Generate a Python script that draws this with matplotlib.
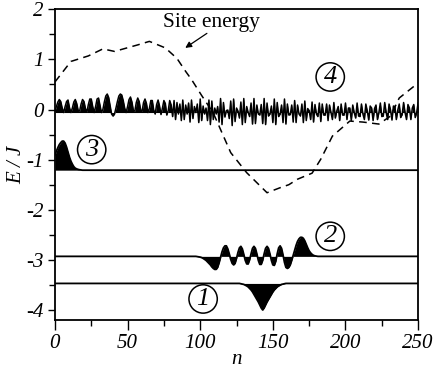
import numpy as np
import matplotlib
matplotlib.use("Agg")
import matplotlib.pyplot as plt

plt.rcParams['font.family'] = ['Liberation Serif', 'DejaVu Serif']
plt.rcParams['axes.unicode_minus'] = False

# ---------------- data ----------------
n_sites = np.arange(251)

# site energy (dashed)
site_n = [0, 11, 23, 33, 41, 57, 65, 76, 84, 90, 94, 101, 109, 121, 132, 146, 155,
          161, 167, 177, 183, 191, 203, 212, 223, 231, 237, 250]
site_E = [0.55, 0.96, 1.07, 1.21, 1.16, 1.29, 1.36, 1.23, 1.02, 0.76, 0.6, 0.28, -0.07,
          -0.86, -1.26, -1.66, -1.56, -1.5, -1.39, -1.27, -0.99, -0.53, -0.23, -0.25,
          -0.29, -0.13, 0.23, 0.53]

# state baselines (eigen-energies)
E1, E2, E3, E4 = -3.47, -2.93, -1.21, -0.06

# state 1 amplitudes, sites 128..158
psi1_start = 128
psi1_vals = [-0.006, -0.012, -0.02, -0.035, -0.05, -0.07, -0.10, -0.13, -0.17, -0.22,
             -0.27, -0.32, -0.37, -0.43, -0.49, -0.53, -0.49, -0.43, -0.37, -0.32,
             -0.27, -0.22, -0.17, -0.13, -0.10, -0.07, -0.05, -0.035, -0.02, -0.012,
             -0.006]

# state 2 amplitudes, sites 98..181
psi2_start = 98
psi2_vals = [-0.005, -0.01, -0.015, -0.025, -0.04, -0.06, -0.08, -0.11, -0.14, -0.17,
             -0.21, -0.24, -0.26, -0.26, -0.22, -0.13, -0.02, 0.09, 0.17, 0.21,
             0.21, 0.15, 0.05, -0.06, -0.14, -0.17, -0.14, -0.04, 0.08, 0.17,
             0.20, 0.15, 0.04, -0.08, -0.15, -0.15, -0.07, 0.05, 0.16, 0.20,
             0.16, 0.05, -0.08, -0.16, -0.16, -0.08, 0.05, 0.16, 0.20, 0.16,
             0.05, -0.08, -0.17, -0.18, -0.10, 0.05, 0.17, 0.21, 0.16, 0.03,
             -0.12, -0.22, -0.24, -0.22, -0.17, -0.08, 0.02, 0.12, 0.22, 0.30,
             0.35, 0.38, 0.38, 0.36, 0.31, 0.24, 0.17, 0.11, 0.07, 0.04,
             0.02, 0.01, 0.005, 0.0]

# state 3 amplitudes, sites 0..19
psi3_start = 0
psi3_vals = [0.30, 0.38, 0.45, 0.51, 0.55, 0.58, 0.58, 0.54, 0.46, 0.36,
             0.26, 0.18, 0.12, 0.07, 0.04, 0.025, 0.015, 0.008, 0.004, 0.0]

# state 4 amplitudes, sites 0..250
psi4_vals = [
    0.03, 0.12, 0.21, 0.26, 0.22, 0.09, 0.00, 0.12, 0.22, 0.25,
    0.10, 0.00, 0.09, 0.21, 0.26, 0.18, 0.04, 0.03, 0.17, 0.26,
    0.22, 0.08, 0.01, 0.16, 0.27, 0.27, 0.12, 0.00, 0.12, 0.27,
    0.29, 0.15, 0.00, 0.06, 0.21, 0.33, 0.37, 0.30, 0.13, -0.03,
    -0.07, -0.03, 0.09, 0.22, 0.33, 0.37, 0.35, 0.24, 0.09, 0.00,
    0.12, 0.26, 0.31, 0.21, 0.04, 0.03, 0.20, 0.29, 0.22, 0.05,
    0.03, 0.20, 0.27, 0.18, 0.00, 0.08, 0.24, 0.24, 0.05, -0.03,
    0.16, 0.25, 0.13, -0.04, 0.09, 0.24, 0.18, -0.05, 0.04, 0.24,
    0.15, -0.08, 0.24, -0.14, 0.20, -0.03, 0.17, -0.16, 0.25, -0.14,
    0.15, -0.03, 0.19, -0.19, 0.25, -0.12, 0.12, 0.00, 0.17, -0.20,
    0.27, -0.16, 0.13, -0.03, 0.09, -0.16, 0.25, -0.24, 0.23, -0.14,
    0.09, -0.03, 0.12, -0.19, 0.28, -0.24, 0.20, -0.09, 0.04, 0.05,
    -0.12, 0.23, -0.26, 0.27, -0.18, 0.09, 0.03, -0.11, 0.21, -0.24,
    0.28, -0.20, 0.12, 0.00, -0.08, 0.19, -0.23, 0.28, -0.22, 0.15,
    -0.03, -0.05, 0.16, -0.22, 0.28, -0.24, 0.19, -0.07, -0.03, 0.13,
    -0.20, 0.27, -0.24, 0.20, -0.08, -0.03, 0.15, -0.20, 0.27, -0.23,
    0.17, -0.05, -0.04, 0.15, -0.19, 0.24, -0.20, 0.15, -0.03, -0.07,
    0.17, -0.20, 0.23, -0.16, 0.08, 0.04, -0.14, 0.21, -0.19, 0.16,
    -0.03, -0.08, 0.19, -0.18, 0.17, -0.05, -0.05, 0.17, -0.16, 0.15,
    0.00, -0.14, 0.20, -0.11, 0.03, 0.12, -0.16, 0.17, -0.05, -0.05,
    0.19, -0.14, 0.09, 0.09, -0.16, 0.15, 0.00, -0.11, 0.19, -0.07,
    -0.08, 0.17, -0.03, -0.14, 0.17, 0.03, -0.15, 0.13, 0.09, -0.16,
    0.08, 0.15, -0.14, 0.00, 0.19, -0.08, -0.07, 0.20, 0.00, -0.14,
    0.17, 0.05, -0.15, 0.13, 0.12, -0.14, 0.05, 0.17, -0.10, -0.04,
    0.20, 0.00, -0.14, 0.16, 0.09, -0.14, 0.09, 0.16, -0.10, 0.00,
    0.19]

labels = ['1', '2', '3', '4']
label_n = [102, 189.5, 25.3, 189.5]
label_E = [-3.78, -2.53, -0.80, 0.65]

# ---------------- figure ----------------
fig = plt.figure(figsize=(4.36, 3.68), dpi=100)
ax = fig.add_axes([0.126, 0.1304, 0.833, 0.8443])


def full(start, vals):
    a = np.zeros(len(n_sites))
    a[start:start + len(vals)] = vals
    return a

states = [(E1, full(psi1_start, psi1_vals)),
          (E2, full(psi2_start, psi2_vals)),
          (E3, full(psi3_start, psi3_vals)),
          (E4, np.array(psi4_vals))]

for E, psi in states:
    ax.fill_between(n_sites, E, E + psi, color='black', lw=0)
    ax.plot(n_sites, E + psi, color='black', lw=1.3 if E != E4 else 1.1)

ax.plot(site_n, site_E, color='black', lw=1.1, ls=(0, (5, 3.5)))

for t, x, y in zip(labels, label_n, label_E):
    ax.text(x, y, t, fontsize=19, style='italic', ha='center', va='center',
            bbox=dict(boxstyle='circle,pad=0.12', fc='white', ec='black', lw=1.1))

ax.text(108, 1.73, 'Site energy', fontsize=15.5, ha='center', va='center')
ax.annotate('', xy=(89.7, 1.23), xytext=(104.6, 1.52),
            arrowprops=dict(arrowstyle='-|>', color='black', lw=0.9,
                            mutation_scale=9, shrinkA=0, shrinkB=0))

ax.set_xlim(0, 250)
ax.set_ylim(-4.2, 2)
ax.set_xticks([0, 50, 100, 150, 200, 250])
ax.set_xticks([25, 75, 125, 175, 225], minor=True)
ax.set_yticks([-4, -3, -2, -1, 0, 1, 2])
ax.set_yticks([-3.5, -2.5, -1.5, -0.5, 0.5, 1.5], minor=True)
ax.set_yticklabels(['-4', '-3', '-2', '-1', '0', '1', '2'])
for lab in ax.get_xticklabels() + ax.get_yticklabels():
    lab.set_fontstyle('italic')
    lab.set_fontsize(15)
ax.tick_params(axis='x', which='major', direction='out', length=7, width=1.0, pad=3)
ax.tick_params(axis='x', which='minor', direction='out', length=4.3, width=1.0)
ax.tick_params(axis='y', which='major', direction='out', length=5, width=1.0, pad=3)
ax.tick_params(axis='y', which='minor', direction='out', length=4, width=1.0)
ax.tick_params(top=False, right=False)
for s in ax.spines.values():
    s.set_linewidth(1.3)

ax.set_xlabel('n', fontsize=15, style='italic', labelpad=-2)
ax.set_ylabel('E / J', fontsize=15, style='italic', labelpad=0)

fig.savefig('out.png', dpi=100)
